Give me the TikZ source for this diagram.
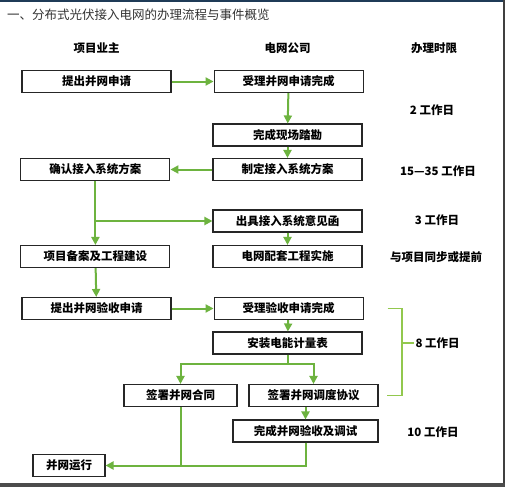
\documentclass[tikz,border=0pt]{standalone}
\usepackage{fontspec}
\setmainfont{Noto Sans CJK SC}
\usetikzlibrary{arrows.meta, positioning}
\definecolor{flowgreen}{HTML}{6DB33F}
\definecolor{bracketgreen}{HTML}{92C84E}
\definecolor{framenavy}{HTML}{1F3B57}
\definecolor{titlegray}{HTML}{333333}

\begin{document}
\begin{tikzpicture}[
        x=1pt, y=-1pt,
        font=\fontsize{11.5}{13}\selectfont\bfseries,
        box/.style={draw=black!85, line width=1.1pt, minimum height=22pt, minimum width=149pt, inner sep=2pt},
        limit/.style={inner sep=1pt},
        arrow/.style={-{Triangle[length=8pt, width=8pt]}, line width=2pt, color=flowgreen},
        link/.style={line width=2pt, color=flowgreen},
        bracket/.style={line width=1.8pt, color=bracketgreen}
    ]
    \useasboundingbox (0,0) rectangle (505,487);
    \fill[white] (0,0) rectangle (505,487);
    % frame
    \draw[framenavy, line width=1.6pt] (0,0.8) -- (505,0.8);
    \draw[black!75, line width=2pt] (503.5,0) -- (503.5,487);
    \draw[black!70, line width=4pt] (0,485) -- (505,485);

    \node[anchor=west, inner sep=0pt, text=titlegray, font=\fontsize{12.5}{14}\selectfont] (title) at (7,15) {一、分布式光伏接入电网的办理流程与事件概览};

    % column heads
    \node (hdowner) at (96.5,48) {项目业主};
    \node (hdgrid) at (287.5,48) {电网公司};
    \node (hdlimit) at (434,48) {办理时限};

    % boxes
    \node[box] (ts) at (96.5,81.5) {提出并网申请};
    \node[box, right=42pt of ts] (acc) {受理并网申请完成};
    \node[box] (survey) at (287.5,135) {完成现场踏勘};
    \node[box] (plan) at (287.5,169.5) {制定接入系统方案};
    \node[box, left=42pt of plan] (confirm) {确认接入系统方案};
    \node[box] (letter) at (287.5,221) {出具接入系统意见函};
    \node[box] (gridwork) at (287.5,256.5) {电网配套工程实施};
    \node[box, left=42pt of gridwork] (record) {项目备案及工程建设};
    \node[box] (apply) at (96.5,308.5) {提出并网验收申请};
    \node[box, right=42pt of apply] (accept) {受理验收申请完成};
    \node[box] (meter) at (287.5,343) {安装电能计量表};
    \node[box, minimum width=113pt] (contract) at (180.5,395.5) {签署并网合同};
    \node[box, minimum width=129pt] (dispatch) at (313.5,395.5) {签署并网调度协议};
    \node[box, minimum width=145pt] (finish) at (305.5,431) {完成并网验收及调试};
    \node[box, minimum width=72pt] (run) at (69,465.5) {并网运行};

    % time limits
    \node[limit] (t2) at (432,110) {2 工作日};
    \node[limit] (t15) at (438,171) {15—35 工作日};
    \node[limit] (t3) at (437,220) {3 工作日};
    \node[limit] (tsync) at (436,257) {与项目同步或提前};
    \node[limit] (t10) at (433,432) {10 工作日};

    % connectors
    \draw[arrow] (ts) -- (acc);
    \draw[arrow] (acc) -- (survey);
    \draw[arrow] (survey) -- (plan);
    \draw[arrow] (plan) -- (confirm);
    \draw[arrow] (confirm) -- (record);
    \draw[arrow] (confirm.south |- letter.west) -- (letter.west);
    \draw[arrow] (letter) -- (gridwork);
    \draw[arrow] (record) -- (apply);
    \draw[arrow] (apply) -- (accept);
    \draw[arrow] (accept) -- (meter);
    \draw[link] (meter.south) -- ++(0,9) coordinate (split);
    \draw[arrow] (split) -| (contract.north);
    \draw[arrow] (split) -| (dispatch.north);
    \draw[arrow] (dispatch.south -| finish.north) -- (finish.north);
    \draw[link] (contract.south) -- (contract.south |- run.east);
    \draw[arrow] (finish.south) |- (run.east);

    % bracket for the acceptance steps
    \coordinate (bt) at ([xshift=24pt]accept.east);
    \coordinate (bx) at ([xshift=38pt]accept.east);
    \draw[bracket] (bt) -- (bx) -- (bx |- dispatch.east) -- ([xshift=8pt]dispatch.east);
    \draw[bracket] (bx |- meter.east) -- ++(12,0) node[right, limit, text=black] (t8) {8 工作日};
\end{tikzpicture}
\end{document}
